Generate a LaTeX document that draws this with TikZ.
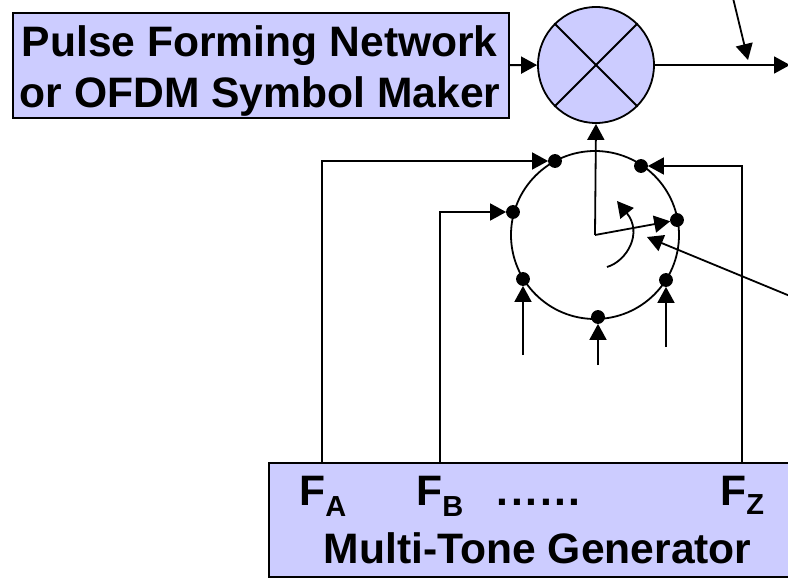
\documentclass[tikz,border=0pt]{standalone}
\usepackage{fontspec}
\setmainfont{Liberation Sans}
\usetikzlibrary{arrows.meta}
\definecolor{blockfill}{HTML}{CCCCFF}
\tikzset{sgp/.style={
  x=1pt,
  y=-1pt,
  line width=1.8pt
}}
\tikzset{blk/.style={
  draw,
  fill=blockfill,
  shape=rectangle,
  inner sep=0pt,
}}
\tikzset{lbl/.style={
  font=\fontsize{42.6}{48}\selectfont\bfseries,
  inner sep=0pt,
  anchor=base west,
}}
\tikzset{dot/.style={
  draw,
  fill=black,
  shape=circle,
  inner sep=0pt,
  minimum size=12pt,
}}
\tikzset{arr/.style={
  -{Stealth[inset=0pt,length=16pt,width=17pt]}
}}
\newcommand{\fsub}[2]{F\raisebox{#2}{\fontsize{29}{34}\selectfont #1}}
\begin{document}
\begin{tikzpicture}[sgp]
    \useasboundingbox (0,0) rectangle (788,578);

    %% Blocks

    \node[blk,minimum width=496pt,minimum height=105pt] (pfn) at (261,65.5) {};
    \node[lbl] at (21,57) {Pulse Forming Network};
    \node[lbl] at (19,108) {or OFDM Symbol Maker};
    \node[blk,shape=circle,minimum size=116pt] (mix) at (596,65) {};
    \draw (mix.45) -- (mix.225);
    \draw (mix.135) -- (mix.-45);
    \node[blk,minimum width=560pt,minimum height=114pt] (mtg) at (549,520) {};
    \node[lbl] (fa) at (298.5,505.5) {\fsub{A}{-11pt}};
    \node[lbl] (fb) at (415.5,505.5) {\fsub{B}{-11pt}};
    \node[lbl] at (496,505.5) {\addfontfeature{LetterSpace=6}......};
    \node[lbl] (fz) at (719.5,505.5) {\fsub{Z}{-9pt}};
    \node[lbl] at (323,563) {Multi-Tone Generator};

    %% Switch

    \node[draw,shape=circle,inner sep=0pt,minimum size=168pt] (sw) at (595,235) {};
    \node[dot] (da) at (555,161) {};
    \node[dot] (dz) at (641,166) {};
    \node[dot] (db) at (513,212) {};
    \node[dot] (dp) at (677,220) {};
    \node[dot] (dl) at (523,279) {};
    \node[dot] (dr) at (666,280) {};
    \node[dot] (dm) at (598,317) {};
    \coordinate (hub) at (595,235);

    % Arm and rotation mark
    \draw[arr] (hub) -- (mix.south);
    \draw[arr] (hub) -- (dp);
    \coordinate (rota) at (607,267);
    \coordinate (rotb) at (617,201);
    \draw[arr] (rota) .. controls (627,261) and (643,233) .. (rotb);

    %% Feeds

    \draw[arr] (322,463) |- (da);
    \draw[arr] (440,463) |- (db);
    \draw[arr] (742,463) |- (dz);
    \coordinate (il) at (523,355);
    \coordinate (im) at (598,365);
    \coordinate (ir) at (666,347);
    \draw[arr] (il) -- (dl);
    \draw[arr] (im) -- (dm);
    \draw[arr] (ir) -- (dr);

    %% Outside

    \coordinate (ctl) at (790,296);
    \coordinate (ctt) at (647,237);
    \draw[arr] (ctl) -- (ctt);
    \coordinate (out) at (790,65);
    \coordinate (lo) at (733,-2);
    \coordinate (lot) at (748,60);
    \draw[arr] (pfn) -- (mix);
    \draw[arr] (mix) -- (out);
    \draw[arr] (lo) -- (lot);

\end{tikzpicture}
\end{document}
